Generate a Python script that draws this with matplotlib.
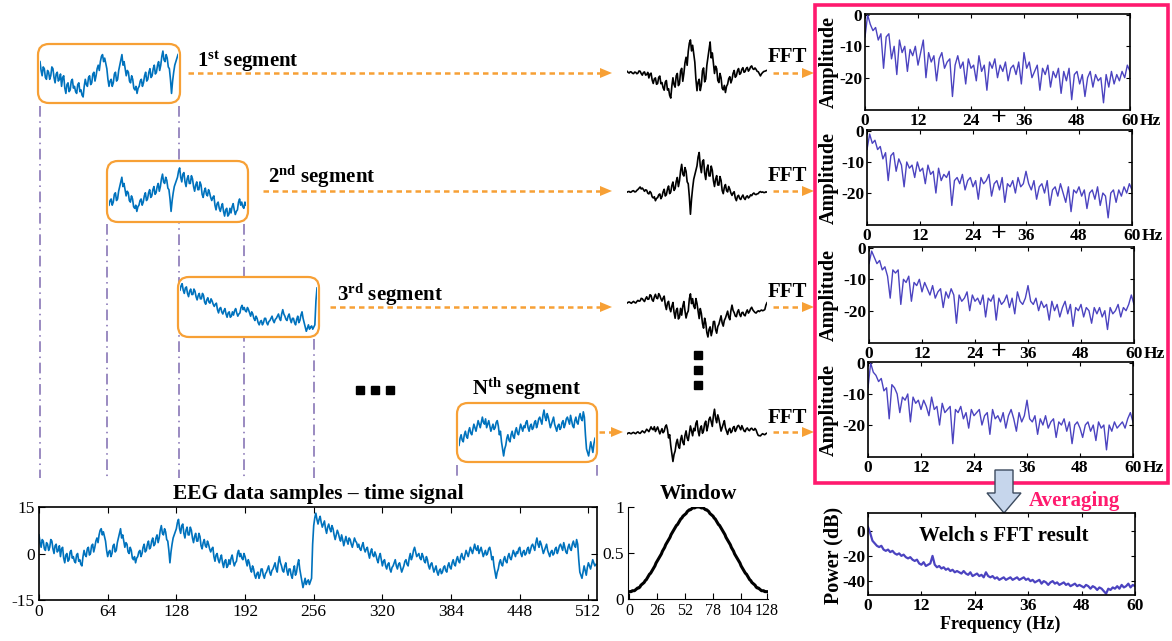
import matplotlib.pyplot as plt
import numpy as np
from matplotlib.patches import FancyBboxPatch, Rectangle, Polygon

plt.rcParams['font.family'] = ['Liberation Serif', 'DejaVu Serif']
plt.rcParams['mathtext.fontset'] = 'custom'
plt.rcParams['mathtext.rm'] = 'Liberation Serif'
plt.rcParams['mathtext.bf'] = 'Liberation Serif:bold'
plt.rcParams['axes.unicode_minus'] = False
plt.rcParams['xtick.direction'] = 'in'
plt.rcParams['ytick.direction'] = 'in'

# ---------------- data ----------------
# EEG signal, even samples (0, 2, ..., 518)
eeg_even = np.array([
    6, 2, 4, 1, 3, 2, 4, 0, 3, 1, -1, 2, -3, 0, -2, 1,
    -1, -3, 0, -2, -4, 1, -1, 2, 0, 3, 2, 5, 6, 8, 7, 4,
    -1, 1, 0, 3, 1, 5, 8, 6, 2, 3, 0, 1, -2, -3, -1, 1,
    0, 3, 1, 4, 2, 5, 3, 6, 5, 9, 6, 7, 4, -3, 3, 6,
    8, 11, 6.5, 9.5, 5, 8.5, 6, 7.5, 3.5, 6.5, 4, 5.5, 1.5, 4.5, 2, 3,
    0.5, 2, -2.5, 0, -3, -0.5, -4.5, -2, -4, -3.5, -0.5, -4, -2.5, 1, 0, -2,
    -1, -4, -3, -6, -5, -8, -6, -7, -5, -8, -6, -4, -7, -5, -3, -6,
    -1, -4, -6, -3, -7, -5, -8, -4, -6, -2, -7, -11, -8, -9, -10, -8,
    9, 13, 9.5, 12, 8.5, 10.5, 6.5, 9.5, 7, 8, 4.5, 7.5, 5, 6, 2.5, 5.5,
    3, 4.5, 2, 5, 3.5, 3, 1, 3.5, 0.5, 2, -1.5, 1.5, -1, -0.5, -3, 0,
    -4, -2, -5, -3, -6, -4, -2, -5, -3, -6, -4, -2, -4, 0, -1, 2,
    -1, 0, -2, -1, -3, -2, -5, -3, -6, -4, -7, -5, -6, -4, -6, -3,
    -5, -2, -4, -1, -3, 0, -2, 1, -1, 2, 0, 3, 1, 0, 2, -1,
    1, 0, 2, -2, -4, -8, -5, -2, -4, -1, -3, 0, -2, 1, -1, 0,
    2, -1, 1, 0, 2, 1, 3, 1, 5, 2, 3, 0, 2, 1, -1, 1,
    0, 2, 1, 3, 1, 2, 0, 3, 1, 4, 2, 3, -6, -8, -4, -7,
    -3, -5, -2, -4])
# EEG signal, odd samples (1, 3, ..., 519)
eeg_odd = np.array([
    3.5, 4.5, 1.5, 3.5, 1, 4.5, 1.5, 2.5, 0.5, 2.5, 1.5, -1.5, -0.5, -2.5, 0.5, -1.5,
    -2.5, -0.5, -2.5, -3.5, -1, -0.5, 1.5, -0.5, 2.5, 0.5, 4, 3.5, 7.5, 6, 5.5, 1,
    0.5, -1, 2.5, 0.5, 3.5, 6.5, 5, 4, 3.5, 0.5, 2, -1.5, -1, -1.5, 0.5, -1,
    2, 0.5, 3, 1.5, 4, 2.5, 5, 3.5, 7.5, 6.5, 8, 4.5, 1, 0.5, 5, 7,
    10, 8, 9, 6.5, 7.5, 6, 8.5, 5, 5.5, 4, 6.5, 2.5, 3.5, 2.5, 4, 1.5,
    1.5, -1, -0.5, -2, -1.5, -3, -2.5, -4.5, -2, -1.5, -2.5, -3, 0, -1, -1.5, 0,
    -2.5, -2, -5, -4, -7, -6.5, -8, -5, -7, -6.5, -5, -6, -5.5, -4, -5, -3,
    -3, -5.5, -4, -5.5, -5, -7, -5.5, -7, -3.5, -5, -9, -9.5, -10, -8.5, -9, 3,
    11.5, 11, 11, 10, 9.5, 8, 8.5, 8, 9, 6, 6, 6.5, 4, 4.5, 4, 4,
    5, 3, 3.5, 4, 2, 1.5, 2.5, 1.5, 1.5, 0, 0.5, -0.5, 0.5, -2, -1, -2,
    -2.5, -4, -3.5, -5, -4.5, -3, -4, -3.5, -4.5, -5, -2.5, -3.5, -1.5, -2, 1, 0.5,
    -0.5, -1.5, 0, -2.5, -1, -4, -3.5, -4.5, -5, -6, -5.5, -6.5, -4.5, -5.5, -4, -4.5,
    -3, -3.5, -2, -2.5, -1, -1.5, -0.5, 0, 0.5, 1, 1.5, 1.5, 2.5, 1, 0.5, 0,
    -0.5, 1.5, 0.5, -1, -6, -6, -3, -3.5, -2, -2.5, -1, -1.5, -0.5, 0, 0.5, 1.5,
    0, 0.5, -0.5, 1.5, 0, 2.5, 2, 3.5, 3, 4, 1.5, 1, 3, 0, 0.5, -0.5,
    1.5, 0, 2.5, 2, 3.5, 0.5, 2, 1.5, 3, 2.5, 4.5, -2, -7, -6, -5.5, -4.5,
    -4, -3.5, -3, -3.5])
eeg = np.empty(len(eeg_even) + len(eeg_odd))
eeg[0::2] = eeg_even
eeg[1::2] = eeg_odd
eeg_t = np.arange(len(eeg))

seg_starts = [0, 64, 128, 384]
seg_len = 128

# Hamming window (samples 0..128)
window = np.array([
    0.08, 0.08, 0.08, 0.09, 0.09, 0.09, 0.10, 0.11, 0.12, 0.12, 0.13, 0.15, 0.16,
    0.17, 0.18, 0.20, 0.21, 0.23, 0.25, 0.27, 0.28, 0.30, 0.32, 0.34, 0.36, 0.39,
    0.41, 0.43, 0.45, 0.47, 0.49, 0.52, 0.54, 0.56, 0.59, 0.61, 0.63, 0.65, 0.67,
    0.70, 0.72, 0.74, 0.76, 0.78, 0.80, 0.81, 0.83, 0.85, 0.87, 0.88, 0.90, 0.91,
    0.92, 0.93, 0.95, 0.96, 0.97, 0.97, 0.98, 0.99, 0.99, 0.99, 1.00, 1.00, 1.00,
    1.00, 1.00, 0.99, 0.99, 0.99, 0.98, 0.97, 0.97, 0.96, 0.95, 0.93, 0.92, 0.91,
    0.90, 0.88, 0.87, 0.85, 0.83, 0.81, 0.80, 0.78, 0.76, 0.74, 0.72, 0.70, 0.67,
    0.65, 0.63, 0.61, 0.59, 0.56, 0.54, 0.52, 0.49, 0.47, 0.45, 0.43, 0.41, 0.39,
    0.36, 0.34, 0.32, 0.30, 0.28, 0.27, 0.25, 0.23, 0.21, 0.20, 0.18, 0.17, 0.16,
    0.15, 0.13, 0.12, 0.12, 0.11, 0.10, 0.09, 0.09, 0.09, 0.08, 0.08, 0.08])
win_t = np.arange(len(window))

# amplitude spectra of the segments (dB), 0..60 Hz
freqs = np.arange(101) * 0.6
spec1 = np.array([
    -7, 0, -3, -5, -4, -8, -6, -17, -7, -6, -14, -10, -19, -8, -12, -10, -18, -11, -13, -10,
    -16, -12, -8, -20, -12, -15, -13, -21, -14, -12, -17, -15, -14, -26, -16, -13, -17, -15, -22, -14,
    -17, -16, -21, -13, -18, -16, -24, -15, -17, -14, -20, -16, -18, -15, -21, -17, -16, -19, -15, -22,
    -12, -17, -15, -20, -18, -16, -24, -17, -19, -16, -23, -18, -20, -17, -25, -18, -21, -17, -27, -19,
    -18, -22, -19, -26, -20, -18, -23, -19, -21, -20, -28, -19, -23, -18, -22, -19, -21, -18, -20, -16, -18])
spec2 = np.array([
    -6, -1, -4, -3, -6, -5, -9, -7, -16, -8, -7, -13, -9, -11, -18, -10, -12, -11, -15, -10,
    -13, -12, -17, -11, -14, -13, -20, -12, -16, -14, -15, -13, -24, -16, -15, -17, -14, -19, -16, -15,
    -18, -16, -22, -15, -17, -16, -14, -21, -17, -16, -19, -15, -23, -17, -18, -16, -20, -15, -18, -17,
    -13, -17, -19, -16, -22, -18, -17, -20, -16, -24, -19, -18, -21, -17, -20, -23, -18, -26, -19, -20,
    -18, -21, -19, -25, -20, -19, -22, -18, -24, -20, -21, -28, -20, -19, -23, -19, -21, -18, -20, -17, -19])
spec3 = np.array([
    -5, -1, -3, -5, -4, -7, -6, -9, -16, -7, -8, -7, -18, -10, -11, -9, -17, -11, -12, -10,
    -14, -11, -13, -15, -12, -16, -14, -13, -19, -14, -16, -13, -15, -24, -15, -17, -16, -14, -20, -15,
    -17, -16, -18, -15, -22, -16, -17, -15, -23, -16, -18, -17, -15, -19, -16, -21, -14, -17, -18, -16,
    -12, -17, -18, -16, -20, -17, -19, -18, -23, -17, -20, -18, -22, -19, -17, -21, -18, -25, -19, -20,
    -18, -22, -19, -20, -24, -19, -21, -19, -22, -20, -26, -19, -21, -20, -18, -22, -19, -20, -18, -15, -18])
spec4 = np.array([
    -8, 0, -3, -4, -6, -5, -9, -8, -18, -7, -8, -10, -16, -11, -12, -10, -19, -11, -13, -12,
    -15, -12, -14, -17, -11, -15, -14, -20, -13, -16, -15, -14, -26, -15, -16, -14, -18, -16, -21, -15,
    -17, -16, -15, -20, -17, -16, -23, -15, -18, -17, -19, -16, -21, -17, -15, -18, -22, -16, -19, -17,
    -12, -18, -19, -17, -23, -18, -20, -17, -21, -19, -18, -24, -19, -20, -18, -22, -19, -26, -20, -19,
    -21, -24, -20, -19, -22, -20, -25, -19, -21, -20, -28, -20, -22, -19, -21, -20, -19, -21, -18, -16, -19])
spectra = [spec1, spec2, spec3, spec4]

# Welch averaged power (dB), 0..60 Hz
welch_f = np.arange(121) * 0.5
welch_db = np.array([
    3, -2, -8, -10, -12, -13, -12, -15, -16, -15, -17, -16, -18, -19, -18, -20, -19, -21, -22, -21,
    -23, -24, -23, -26, -27, -25, -28, -27, -26, -20, -27, -29, -28, -30, -29, -31, -30, -32, -31, -33,
    -32, -33, -34, -32, -34, -35, -33, -36, -35, -34, -36, -35, -37, -33, -36, -37, -36, -38, -37, -39,
    -38, -37, -39, -38, -37, -39, -38, -37, -39, -38, -37, -39, -38, -40, -39, -41, -40, -39, -42, -40,
    -41, -43, -41, -40, -42, -41, -43, -42, -41, -43, -42, -44, -43, -42, -44, -43, -44, -45, -43, -44,
    -46, -44, -45, -47, -45, -46, -48, -50, -46, -47, -45, -46, -44, -46, -43, -45, -44, -42, -45, -43,
    -44])

seg_names = [r'$\mathbf{1^{st}}$ segment', r'$\mathbf{2^{nd}}$ segment',
             r'$\mathbf{3^{rd}}$ segment', r'$\mathbf{N^{th}}$ segment']

# ---------------- layout helpers ----------------
W, H = 1172, 641
fig = plt.figure(figsize=(W / 100, H / 100), dpi=100)


def px_axes(x0, y0, x1, y1, **kw):
    return fig.add_axes([x0 / W, 1 - y1 / H, (x1 - x0) / W, (y1 - y0) / H], **kw)


bg = px_axes(0, 0, W, H)
bg.set_xlim(0, W)
bg.set_ylim(H, 0)
bg.axis('off')

orange = '#F7A035'
blue = '#0072BD'
purple = '#4B43C0'
pink = '#FF1A6E'
dashpurple = '#7E6BB0'


def orange_arrow(x0, x1, y):
    bg.plot([x0, x1 - 10], [y, y], color=orange, lw=1.8, ls=(0, (2.2, 1.6)))
    bg.add_patch(Polygon([(x1 - 12, y - 5), (x1, y), (x1 - 12, y + 5)],
                         closed=True, color=orange, lw=0))


# dash-dot guide lines
for x, ystart in [(40, 106), (179, 106), (107, 224), (244, 224), (314, 339),
                  (457, 465), (597, 465)]:
    bg.plot([x, x], [ystart, 478], color=dashpurple, lw=1.1, ls=(0, (7, 3, 1, 3)), zorder=1)

# segment boxes, signals, labels and arrows
boxes = [(38, 44, 180, 103), (107, 161, 248, 222), (178, 277, 319, 337), (457, 403, 597, 462)]
arrow_y = [73, 191, 307, 432]
label_pos = [(197, 62), (268, 177), (337, 295), (472, 389)]
arrow_x0 = [188, 263, 330, 599]
arrow_x1 = [612, 612, 612, 623]
fft_y = [57, 176, 292, 418]
win_amp = [7, 9, 8, 8]

for i, (x0, y0, x1, y1) in enumerate(boxes):
    bg.add_patch(FancyBboxPatch((x0, y0), x1 - x0, y1 - y0,
                                boxstyle='round,pad=0,rounding_size=11',
                                fc='white', ec=orange, lw=1.6, zorder=3))
    s0 = seg_starts[i]
    seg = eeg[s0:s0 + seg_len + 1]
    sa = px_axes(x0 + 2, y0 + 6, x1 - 2, y1 - 5)
    sa.plot(eeg_t[s0:s0 + len(seg)], seg, color=blue, lw=1.2)
    sa.set_xlim(s0, s0 + len(seg) - 1)
    sa.set_ylim(seg.min() - 0.3, seg.max() + 0.3)
    sa.axis('off')

    bg.text(label_pos[i][0], label_pos[i][1], seg_names[i], fontsize=15,
            fontweight='bold', ha='left', va='center')
    orange_arrow(arrow_x0[i], arrow_x1[i], arrow_y[i])

    # windowed segment
    wa = px_axes(627, arrow_y[i] - 40, 767, arrow_y[i] + 40)
    wseg = (seg - seg.mean()) * window
    wa.plot(win_t, wseg, color='black', lw=1.2)
    wa.set_xlim(0, 128)
    wa.set_ylim(-win_amp[i], win_amp[i])
    wa.axis('off')

    bg.text(768, fft_y[i], 'FFT', fontsize=15, fontweight='bold', ha='left', va='center')
    orange_arrow(773, 814, arrow_y[i])

# ellipses
bg.plot([360, 375, 390], [390, 390, 390], 's', color='black', ms=5.5)
bg.plot([698, 698, 698], [355, 370, 385], 's', color='black', ms=5.5)

# pink group box
bg.add_patch(Rectangle((815, 5), 1168 - 815, 483 - 5, fill=False, ec=pink, lw=2.6, zorder=2))

# spectra
spec_rects = [(865, 14, 1130, 110), (867, 130, 1132, 225), (869, 247, 1134, 343), (868, 362, 1133, 457)]
for i, (x0, y0, x1, y1) in enumerate(spec_rects):
    ax = px_axes(x0, y0, x1, y1)
    ax.plot(freqs, spectra[i], color=purple, lw=1.0)
    ax.set_xlim(0, 60)
    ax.set_ylim(-30.3, 0.3)
    ax.set_xticks([0, 12, 24, 36, 48, 60], labels=['0', '12', '24', '36', '48', '60'],
                  fontsize=12.5, fontweight='bold')
    ax.set_yticks([0, -10, -20], labels=['0', '-10', '-20'], fontsize=12.5, fontweight='bold')
    ax.tick_params(top=True, right=True, length=3, width=0.8, pad=2)
    for s in ax.spines.values():
        s.set_linewidth(1.2)
    bg.text(x1 + 10, y1 + 11, 'Hz', fontsize=12.5, fontweight='bold', ha='left', va='center')
    bg.text(829, (y0 + y1) / 2, 'Amplitude', fontsize=14.5, fontweight='bold',
            rotation=90, ha='center', va='center')
    if i < 3:
        bg.text(998, y1 + 9, '+', fontsize=20, fontweight='bold', ha='center', va='center')

# averaging arrow
bg.add_patch(Polygon([(995, 470), (1013, 470), (1013, 493), (1021, 493), (1004, 513),
                      (987, 493), (995, 493)], closed=True, fc='#C6D6EC', ec='#3B4A5E',
                     lw=1.0, zorder=4))
bg.text(1029, 501, 'Averaging', fontsize=15, fontweight='bold', color=pink,
        ha='left', va='center')

# Welch result
wx = px_axes(868, 513, 1135, 595)
wx.plot(welch_f, welch_db, color=purple, lw=1.6)
wx.set_xlim(0, 60)
wx.set_ylim(-51, 14)
wx.set_xticks([0, 12, 24, 36, 48, 60], labels=['0', '12', '24', '36', '48', '60'],
              fontsize=12.5, fontweight='bold')
wx.set_yticks([0, -20, -40], labels=['0', '-20', '-40'], fontsize=12.5, fontweight='bold')
wx.tick_params(top=True, right=True, length=3, width=0.8, pad=2)
for s in wx.spines.values():
    s.set_linewidth(1.2)
wx.text(0.51, 0.72, 'Welch s FFT result', transform=wx.transAxes, fontsize=15,
        fontweight='bold', ha='center', va='center')
bg.text(833, 555, 'Power (dB)', fontsize=14.5, fontweight='bold', rotation=90,
        ha='center', va='center')
bg.text(1000, 624, 'Frequency (Hz)', fontsize=13, fontweight='bold', ha='center', va='center')

# full EEG signal
ex = px_axes(39, 507, 597, 600)
ex.plot(eeg_t, eeg, color=blue, lw=1.2)
ex.set_xlim(0, 520)
ex.set_ylim(-15, 15)
ex.set_xticks([0, 64, 128, 192, 256, 320, 384, 448, 512])
ex.set_yticks([-15, 0, 15])
ex.tick_params(labelsize=12.5, top=True, right=True, length=4, width=0.8, pad=3)
for s in ex.spines.values():
    s.set_linewidth(1.2)
ex.set_title('EEG data samples – time signal', fontsize=15.5, fontweight='bold', pad=6)

# window
wn = px_axes(628, 507, 768, 599)
wn.plot(win_t, window, color='black', lw=2.2)
wn.set_xlim(-1, 129)
wn.set_ylim(0, 1.0)
wn.set_xticks([0, 26, 52, 78, 104, 128])
wn.set_yticks([0, 0.5, 1], labels=['0', '0.5', '1'])
wn.tick_params(axis='x', labelsize=11.5, length=4, width=0.8, pad=3)
wn.tick_params(axis='y', labelsize=12.5, length=4, width=0.8, pad=3)
wn.spines['top'].set_visible(False)
wn.spines['right'].set_visible(False)
wn.patch.set_visible(False)
wn.set_title('Window', fontsize=15.5, fontweight='bold', pad=6)

fig.savefig('out.png', dpi=100)
